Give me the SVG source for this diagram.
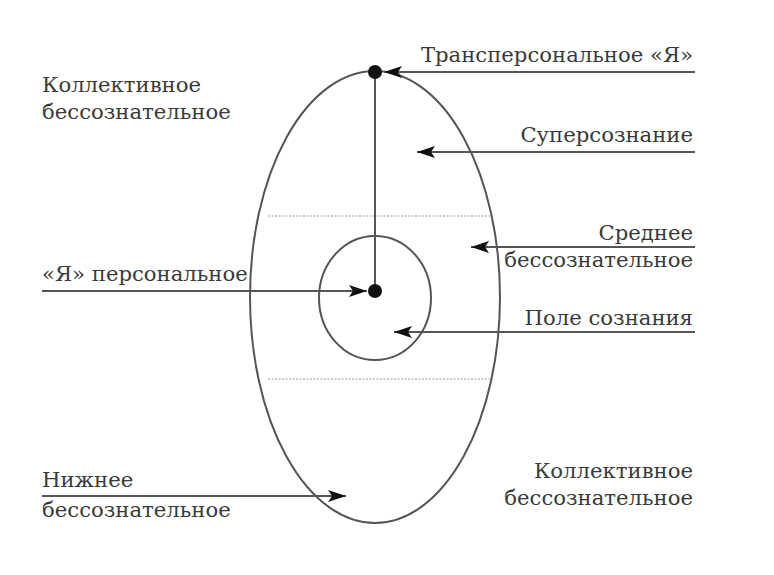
<svg xmlns="http://www.w3.org/2000/svg" width="774" height="575" viewBox="0 0 774 575">
<defs>
<style>
text{font-family:"DejaVu Serif","Liberation Serif",serif;font-size:21.2px;fill:#3a3a3a}
.r{text-anchor:end}
.ln{stroke:#555;stroke-width:2;fill:none}
.dot{fill:#111}
.dash{stroke:#bbb;stroke-width:1.5;stroke-dasharray:2 1.5}
</style>
<marker id="ah" viewBox="0 0 18 12" refX="18" refY="6" markerWidth="18" markerHeight="12" markerUnits="userSpaceOnUse" orient="auto">
<path d="M0,0 L18,6 L0,12 L4,6 Z" fill="#111"/>
</marker>
</defs>
<rect width="774" height="575" fill="#fff"/>
<g id="outer"><ellipse class="ln" cx="375" cy="297" rx="125" ry="226"/></g>
<g id="levels">
<line class="dash" x1="268" y1="216" x2="490" y2="216"/>
<line class="dash" x1="268" y1="379" x2="490" y2="379"/>
</g>
<g id="field"><ellipse class="ln" cx="375" cy="298" rx="56" ry="62"/></g>
<g id="axis"><line class="ln" x1="375" y1="72" x2="375" y2="291"/></g>
<g id="top-self"><circle class="dot" cx="375" cy="72" r="7"/></g>
<g id="personal-self"><circle class="dot" cx="375" cy="291" r="7"/></g>
<g id="connectors">
<line class="ln" x1="695" y1="72" x2="384" y2="72" marker-end="url(#ah)"/>
<line class="ln" x1="695" y1="152" x2="417" y2="152" marker-end="url(#ah)"/>
<line class="ln" x1="695" y1="247" x2="471" y2="247" marker-end="url(#ah)"/>
<line class="ln" x1="695" y1="332" x2="394" y2="332" marker-end="url(#ah)"/>
<line class="ln" x1="42" y1="291" x2="367" y2="291" marker-end="url(#ah)"/>
<line class="ln" x1="42" y1="496" x2="346" y2="496" marker-end="url(#ah)"/>
</g>
<g id="labels">
<text class="r" x="693" y="62">Трансперсональное «Я»</text>
<text class="r" x="693" y="142">Суперсознание</text>
<text class="r" x="693" y="240">Среднее</text>
<text class="r" x="693" y="267">бессознательное</text>
<text class="r" x="693" y="325">Поле сознания</text>
<text x="42" y="281">«Я» персональное</text>
<text x="42" y="92">Коллективное</text>
<text x="42" y="119">бессознательное</text>
<text x="42" y="487">Нижнее</text>
<text x="42" y="517">бессознательное</text>
<text class="r" x="693" y="478">Коллективное</text>
<text class="r" x="693" y="505">бессознательное</text>
</g>
</svg>
